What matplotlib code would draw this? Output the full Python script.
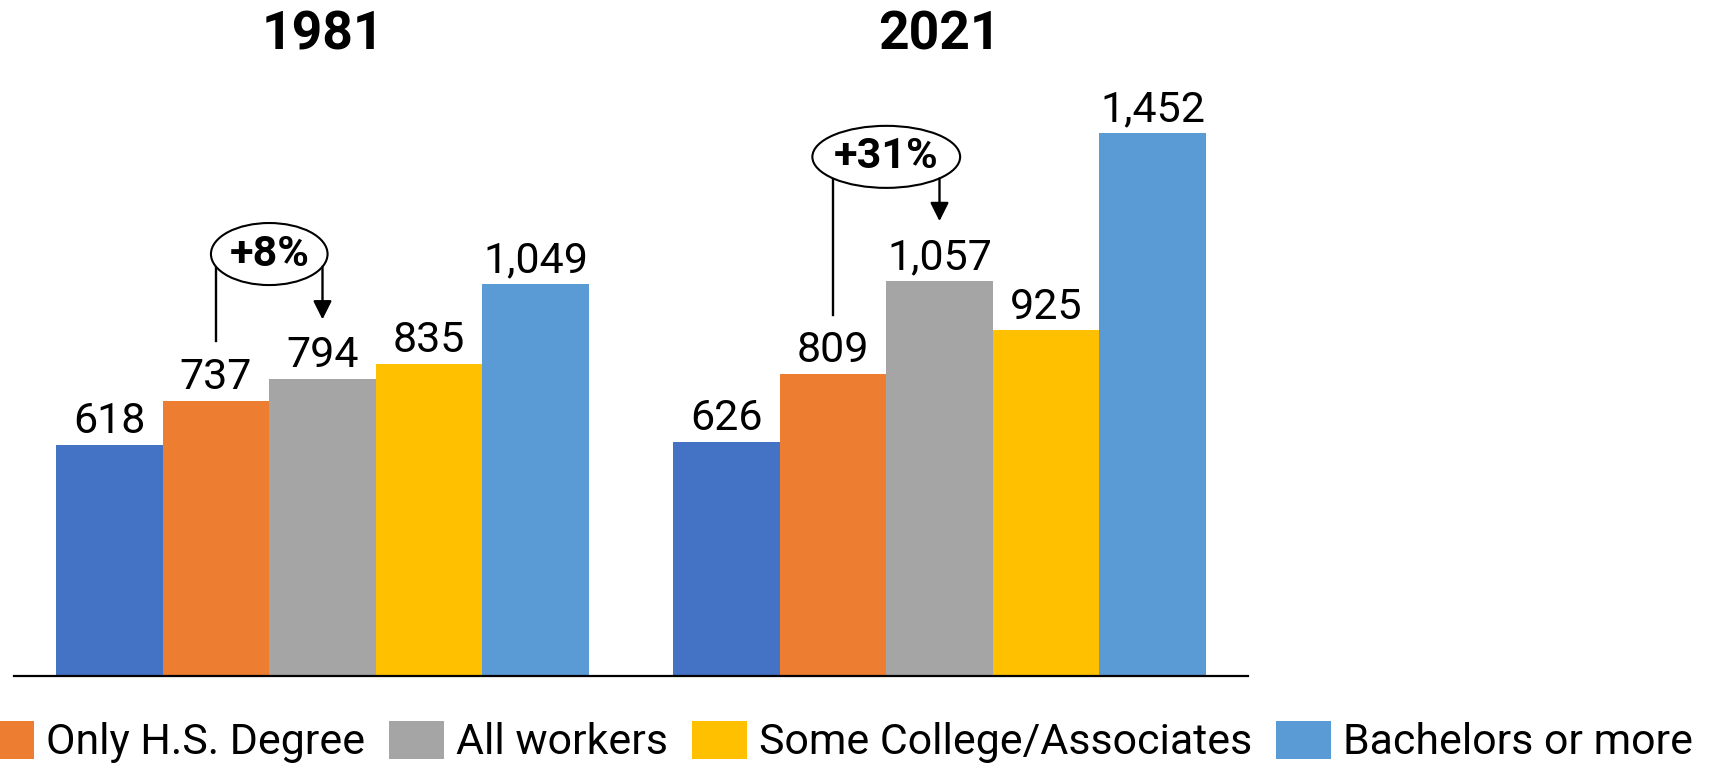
import matplotlib.pyplot as plt
import numpy as np
from matplotlib.patches import Ellipse
from matplotlib.transforms import blended_transform_factory

plt.rcParams['font.family'] = ['Roboto', 'DejaVu Sans']

# data
years = ['1981', '2021']
groups = ['Less than H.S.', 'Only H.S. Degree', 'All workers',
          'Some College/Associates', 'Bachelors or more']
earn_1981 = [618, 737, 794, 835, 1049]
earn_2021 = [626, 809, 1057, 925, 1452]
colors = ['#4472C4', '#ED7D31', '#A5A5A5', '#FFC000', '#5B9BD5']

# percentage callouts: (year index, from group, to group, text)
callouts = [(0, 1, 2, '+8%'), (1, 1, 2, '+31%')]

fig = plt.figure(figsize=(17.16, 7.69), dpi=100)
ax = fig.add_axes([14 / 1716, 93 / 769, 1234 / 1716, 598 / 769])

x = np.arange(len(years))
w = 0.1726
values = np.array([earn_1981, earn_2021]).T  # rows = groups

bars = []
for i, g in enumerate(groups):
    b = ax.bar(x + (i - 2) * w, values[i], w, color=colors[i], label=g)
    ax.bar_label(b, labels=['{:,}'.format(v) for v in values[i]],
                 padding=2, fontsize=31)
    bars.append(b)

ax.set_xlim(-0.5, 1.5)
ax.set_ylim(0, 1600)
for s in ['top', 'right', 'left']:
    ax.spines[s].set_visible(False)
ax.spines['bottom'].set_linewidth(1.6)
ax.set_xticks([])
ax.set_yticks([])

# year titles
tr = blended_transform_factory(ax.transData, fig.transFigure)
for xi, yr in zip(x, years):
    ax.text(xi, 1 - 35 / 769, yr, transform=tr, ha='center', va='center',
            fontsize=38.5, fontweight='bold')

# ellipse callouts
for yi, a, b, txt in callouts:
    xa = x[yi] + (a - 2) * w
    xb = x[yi] + (b - 2) * w
    xc = (xa + xb) / 2
    yc = values[b][yi] + (335 if yi == 0 else 332)
    ew = 0.189 if yi == 0 else 0.2395
    eh = 166
    ax.add_patch(Ellipse((xc, yc), ew, eh, facecolor='white',
                         edgecolor='black', lw=1.5, zorder=3))
    ax.text(xc, yc, txt, ha='center', va='center', fontsize=31,
            fontweight='bold', zorder=4)
    dx = (xb - xa) / 2
    yedge = yc - eh / 2 * np.sqrt(1 - (dx / (ew / 2)) ** 2)
    ax.plot([xa, xa], [values[a][yi] + 158, yedge], color='black', lw=1.7)
    ax.annotate('', xy=(xb, values[b][yi] + 160), xytext=(xb, yedge),
                arrowprops=dict(arrowstyle='-|>', color='black', lw=1.7,
                                mutation_scale=28, shrinkA=0, shrinkB=0))

# legend (first entry falls off the left edge like the original)
leg = fig.legend(handles=bars[1:], loc='center left',
                 bbox_to_anchor=(-21 / 1716, 1 - 742 / 769), ncol=4,
                 frameon=False, fontsize=30.9, handlelength=1.28,
                 handleheight=0.98, handletextpad=0.27, columnspacing=0.57,
                 borderpad=0, borderaxespad=0)

plt.savefig('out.png', dpi=100)
